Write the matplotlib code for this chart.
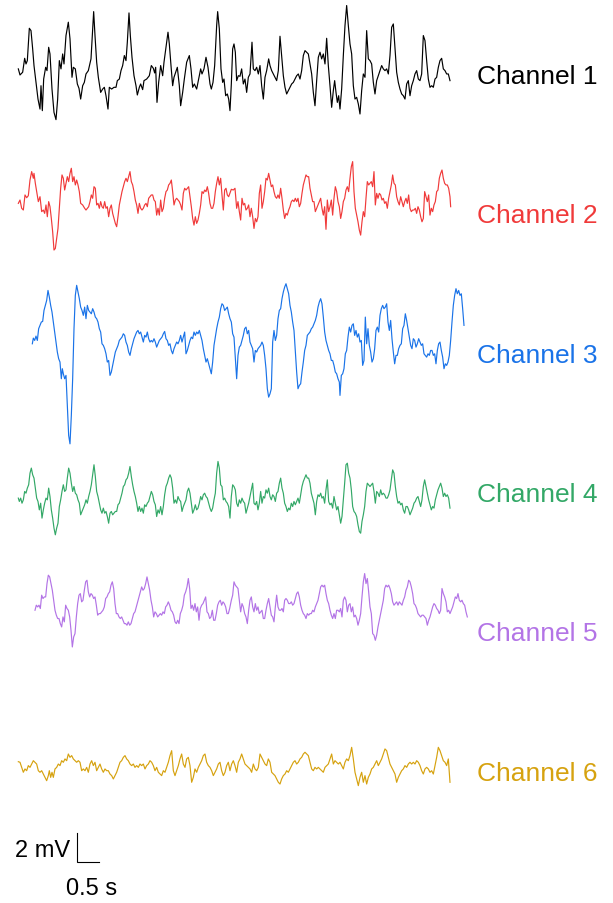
import numpy as np
import matplotlib
matplotlib.use("Agg")
import matplotlib.pyplot as plt

plt.rcParams['font.family'] = ['Liberation Sans', 'DejaVu Sans']

FS = 132.0  # sampling rate, Hz (sample index -> seconds)

channel_names = ["Channel 1", "Channel 2", "Channel 3", "Channel 4", "Channel 5", "Channel 6"]
channel_colors = ["#000000", "#f03a3a", "#1a73e8", "#33a867", "#b374e6", "#d6a20f"]

# (sample index, amplitude in mV)
ch1 = [(1,0.35),(6,-0.07),(14,0.12),(20,1.08),(24,0.69),(28,0.92),(34,3.15),(39,2.99),(44,1.73),(48,0.58),
       (54,-0.58),(60,-1.73),(66,-2.42),(69,-0.81),(73,-2.53),(77,-0.35),(83,0.46),(87,0.23),(92,1.84),(96,1.38),
       (102,-1.04),(108,-2.65),(114,-3.15),(119,-1.73),(124,0.92),(129,0.35),(134,1.38),(138,0.69),(144,2.65),(151,3.57),
       (156,2.42),(162,-0.23),(166,0.46),(172,0.35),(178,-0.69),(183,-0.99),(188,-1.73),(194,-0.81),(199,-0.58),(204,0.00),
       (211,0.23),(219,1.04),(223,2.65),(227,4.30),(231,2.65),(236,0.81),(241,-0.23),(248,-1.27),(254,-1.04),(259,-0.92),
       (264,-1.50),(270,-2.42),(274,-0.92),(281,-1.04),(288,-0.92),(294,-0.92),(298,-0.46),(304,-0.35),(309,0.23),(314,0.58),
       (319,1.27),(324,0.92),(328,2.19),(333,4.21),(337,2.65),(342,1.15),(348,-0.12),(354,-0.81),(358,-1.45),(364,-0.92),
       (368,-0.69),(374,-1.08),(378,-0.46),(386,-0.35),(394,-0.12),(400,0.58),(406,0.39),(410,0.07),(413,0.46),(417,-1.96),
       (422,-0.58),(428,0.58),(434,-0.12),(438,0.81),(444,1.84),(450,2.88),(454,2.07),(459,0.58),(464,-0.81),(468,-0.23),
       (473,0.12),(478,0.46),(484,-0.81),(488,-2.19),(494,-1.27),(499,-0.35),(506,0.81),(514,1.27),(519,0.35),(524,-0.92),
       (529,-0.69),(536,-1.04),(542,-0.35),(548,0.35),(552,0.00),(558,0.35),(564,1.15),(570,0.46),(576,-0.69),(580,-1.04),
       (585,-0.58),(590,0.58),(596,3.34),(599,4.30),(604,3.11),(609,0.35),(614,-0.58),(618,-0.35),(623,-1.50),(628,-1.38),
       (632,-1.73),(636,-2.53),(640,-0.69),(644,1.73),(648,2.07),(652,1.50),(656,-0.46),(661,-0.12),(666,-0.16),
       (671,0.35),(676,-0.69),(681,-0.35),(686,-1.27),(691,-0.23),(696,0.00),(702,2.19),(706,0.35),(711,0.23),(716,0.46),
       (721,0.00),(726,0.58),(731,-0.81),(736,-1.73),(741,-0.23),(746,0.23),(752,1.04),(756,0.58),(761,0.23),(766,0.00),
       (771,-0.23),(776,-0.46),(781,0.23),(786,2.60),(791,1.27),(796,-0.12),(801,-0.92),(806,-1.38),(811,-1.15),(816,-0.92),
       (821,-0.69),(826,-0.58),(831,-0.35),(836,-0.12),(841,0.00),(846,-0.35),(851,0.23),(856,1.27),(861,1.61),(866,1.50),
       (871,1.38),(876,0.69),(881,0.00),(886,-1.27),(891,-2.19),(896,-0.46),(901,1.15),(906,1.50),(911,1.04),(916,1.38),
       (921,0.69),(926,2.46),(931,0.58),(936,-0.81),(941,-2.30),(946,-1.15),(950,-0.46),(954,-1.27),(958,-1.96),(962,-1.50),
       (966,-2.42),(971,-1.04),(976,1.27),(981,3.34),(986,4.72),(991,3.34),(996,2.07),(1001,1.38),(1006,-0.81),(1011,-1.73),
       (1016,-1.61),(1021,-2.07),(1026,-2.76),(1031,-1.15),(1036,0.00),(1041,-0.23),(1046,2.99),(1051,1.04),(1056,0.92),(1061,0.69),
       (1066,-0.58),(1071,-1.38),(1076,-0.46),(1081,-0.12),(1086,0.23),(1091,0.58),(1096,0.35),(1101,0.23),(1106,0.35),(1111,0.00),
       (1116,1.27),(1121,3.22),(1126,3.45),(1131,1.73),(1136,0.12),(1141,-0.58),(1146,-1.04),(1151,-1.38),(1156,-1.50),(1161,-1.73),
       (1166,-0.69),(1171,-0.46),(1176,-1.50),(1181,-0.81),(1186,-0.46),(1191,0.00),(1196,0.23),(1201,-0.35),(1206,-0.46),(1211,0.00),
       (1216,2.65),(1221,2.30),(1226,0.92),(1231,-0.35),(1236,-0.92),(1241,-0.81),(1246,-0.92),(1251,-0.35),(1256,-0.23),(1261,0.46),
       (1266,0.92),(1271,1.08),(1276,0.35),(1281,0.23),(1286,0.00),(1291,0.00),(1296,-0.46)]

ch2 = [(1,0.69),(6,0.92),(11,0.35),(16,0.23),(21,1.27),(26,1.08),(31,1.22),(36,2.30),(41,2.88),(46,2.42),
       (48,2.76),(52,2.07),(56,1.50),(61,0.81),(66,1.15),(71,0.12),(76,0.23),(80,0.00),(84,0.58),(88,-0.23),
       (92,0.81),(96,0.46),(100,-0.35),(104,-1.27),(108,-2.53),(112,-2.42),(116,-1.73),(120,-1.04),(124,0.35),(128,1.73),
       (132,2.65),(136,2.42),(140,1.61),(144,2.07),(148,2.53),(152,2.19),(156,2.76),(160,3.11),(164,2.19),(168,2.53),
       (172,1.96),(176,2.30),(180,1.96),(184,1.50),(188,0.69),(194,0.58),(200,0.35),(204,0.23),(208,0.35),(212,0.46),
       (216,0.81),(220,1.27),(224,1.04),(228,1.84),(232,1.73),(236,0.58),(240,0.69),(244,0.35),(248,0.81),(252,0.46),
       (256,0.35),(260,0.81),(264,0.35),(268,0.46),(272,-0.23),(276,0.35),(280,0.58),(284,0.00),(288,-0.35),(292,-0.69),
       (296,-0.92),(300,-0.23),(304,0.58),(308,1.04),(312,1.50),(316,1.84),(320,2.19),(324,2.42),(328,2.19),(332,2.53),
       (336,2.88),(340,2.19),(344,1.96),(348,1.50),(352,0.92),(356,0.58),(360,0.00),(364,0.69),(368,0.35),(372,0.23),
       (376,0.35),(380,0.58),(384,0.69),(388,0.46),(392,1.04),(396,1.15),(400,1.27),(404,1.27),(408,0.92),(412,0.81),
       (416,-0.12),(420,0.35),(424,-0.12),(428,0.92),(432,0.12),(436,0.35),(440,1.04),(444,1.50),(448,1.61),(452,1.96),
       (456,2.07),(460,2.30),(464,1.50),(468,0.58),(472,0.92),(476,1.04),(480,0.92),(484,0.81),(488,0.58),(492,0.23),
       (496,1.38),(500,1.73),(504,1.61),(508,1.73),(512,1.84),(516,1.15),(520,0.46),(524,-0.35),(528,-0.81),(532,-0.23),
       (536,-0.69),(540,-0.46),(544,0.00),(548,0.58),(552,1.50),(556,1.38),(560,1.61),(564,1.50),(568,1.84),(572,1.38),
       (576,0.69),(580,0.35),(584,0.35),(588,0.69),(592,1.50),(596,2.07),(600,2.53),(604,1.96),(608,2.42),(612,1.27),
       (616,0.23),(620,1.61),(624,1.73),(628,1.27),(632,1.15),(640,1.66),(646,1.61),(651,1.73),(656,0.35),(660,0.81),
       (664,0.12),(668,-0.46),(672,1.04),(676,0.58),(680,0.69),(684,0.23),(688,0.35),(692,0.58),(696,-0.23),(700,0.35),
       (704,-0.23),(708,-1.04),(712,-0.35),(716,-0.58),(720,-0.23),(724,1.38),(728,1.96),(732,0.35),(736,0.81),(740,1.50),
       (744,2.42),(748,2.30),(752,2.76),(756,2.30),(760,1.84),(764,1.96),(768,1.50),(772,1.15),(776,1.04),(780,1.27),
       (784,1.04),(788,1.73),(792,1.04),(796,0.23),(800,-0.35),(804,0.00),(808,-0.12),(812,0.23),(816,0.46),(820,0.81),
       (824,0.92),(828,0.81),(832,1.04),(836,0.81),(840,1.04),(844,0.46),(848,0.69),(852,1.38),(856,1.96),(860,2.30),
       (864,2.65),(868,2.53),(872,2.53),(876,1.73),(880,1.27),(884,0.81),(888,0.81),(892,0.12),(896,0.35),(900,0.58),
       (904,0.81),(908,1.04),(912,0.35),(916,-0.12),(920,0.46),(924,-1.10),(928,0.92),(932,0.12),(936,0.46),(940,0.92),
       (944,-0.12),(948,1.04),(952,1.84),(956,1.50),(960,0.81),(964,0.46),(968,-0.35),(972,0.12),(976,0.81),(980,1.04),
       (984,1.61),(988,1.84),(992,1.50),(996,2.42),(1000,3.22),(1004,3.57),(1008,1.50),(1012,0.35),(1016,-0.12),(1020,-0.58),
       (1024,-1.15),(1028,-1.50),(1032,-0.58),(1036,0.12),(1040,-0.23),(1044,1.04),(1048,2.19),(1052,1.96),(1056,2.07),(1060,2.19),
       (1064,1.84),(1068,2.88),(1072,0.58),(1076,1.38),(1080,1.04),(1084,1.38),(1088,1.27),(1092,0.92),(1096,1.04),(1100,0.69),
       (1104,0.81),(1108,0.35),(1112,1.04),(1116,1.50),(1120,1.96),(1124,2.65),(1128,2.07),(1132,1.96),(1136,1.15),(1140,0.81),
       (1144,0.58),(1148,1.15),(1152,0.81),(1156,0.46),(1160,0.81),(1164,1.04),(1168,0.69),(1172,1.27),(1176,0.35),(1180,0.12),
       (1184,0.23),(1188,0.23),(1192,0.35),(1196,0.00),(1200,0.46),(1204,0.23),(1208,-0.23),(1212,-0.58),(1216,-0.35),(1220,1.50),
       (1224,1.15),(1228,0.81),(1232,1.27),(1236,-0.12),(1240,0.35),(1244,0.12),(1248,0.58),(1252,0.81),(1256,1.50),(1260,1.61),
       (1264,2.42),(1268,2.76),(1272,2.99),(1276,2.42),(1280,2.07),(1284,1.96),(1288,1.96),(1292,1.73),(1296,1.15),(1298,0.46)]

ch3 = [(43,0.62),(46,1.01),(50,0.85),(54,1.15),(58,0.85),(62,1.66),(66,1.89),(70,2.12),(74,2.16),(78,2.92),
       (82,3.27),(86,3.61),(90,4.30),(94,3.84),(98,3.27),(102,2.81),(106,2.12),(110,1.43),(114,0.74),(118,0.05),
       (122,-0.41),(126,-0.64),(130,-1.79),(133,-1.10),(136,-1.45),(140,-1.79),(144,-1.56),(148,-3.63),(152,-5.70),(156,-6.28),
       (160,-4.32),(164,-1.79),(168,1.66),(172,3.96),(176,4.65),(180,4.19),(184,3.73),(188,3.15),(192,2.92),(196,2.58),
       (200,3.15),(204,2.35),(208,3.27),(212,2.92),(216,2.81),(220,2.69),(224,3.04),(228,2.81),(232,2.46),(236,2.35),
       (240,2.12),(244,1.66),(248,1.43),(252,0.62),(256,0.51),(260,0.28),(264,-0.07),(268,-0.64),(272,-0.53),(276,-1.56),
       (280,-1.33),(284,-0.87),(288,-0.41),(292,0.05),(296,0.28),(300,0.51),(304,0.85),(308,0.97),(312,1.08),(316,1.31),
       (320,1.20),(324,0.74),(328,0.51),(332,0.05),(336,-0.18),(340,0.28),(344,0.62),(348,0.97),(352,1.20),(356,1.43),
       (360,1.54),(364,1.31),(368,1.43),(372,1.08),(376,0.74),(380,1.20),(384,1.08),(388,1.43),(392,0.97),(396,0.74),
       (400,0.85),(404,0.74),(408,0.97),(412,0.74),(416,0.39),(420,0.62),(424,0.85),(428,0.97),(432,1.08),(436,1.31),
       (440,1.47),(444,0.97),(448,0.85),(452,0.51),(456,0.62),(460,0.16),(464,-0.07),(468,0.28),(472,0.51),(476,0.74),
       (480,0.62),(484,0.85),(488,1.20),(492,0.74),(496,1.08),(500,1.43),(504,-0.07),(508,0.16),(512,0.51),(516,0.85),
       (520,1.08),(524,0.97),(528,1.43),(532,1.20),(536,1.43),(540,1.31),(544,1.54),(548,1.20),(552,0.85),(556,0.28),
       (560,-0.18),(564,-0.64),(568,-0.41),(572,-0.76),(576,-1.10),(580,-1.45),(584,-0.64),(588,0.51),(592,1.08),(596,1.66),
       (600,2.12),(604,2.46),(608,3.04),(612,3.38),(616,3.27),(620,2.92),(624,3.04),(628,3.15),(632,2.69),(636,2.35),
       (640,2.12),(644,1.31),(648,1.08),(652,-0.41),(656,-1.79),(660,-0.18),(664,0.39),(668,0.51),(672,0.85),(676,1.20),
       (680,1.66),(684,1.77),(688,1.31),(692,1.54),(696,0.74),(700,0.51),(704,0.28),(708,-0.64),(712,0.16),(716,0.05),
       (720,0.28),(724,0.39),(728,0.51),(732,0.74),(736,0.51),(740,-0.18),(744,-1.10),(748,-2.48),(752,-3.06),(756,-2.83),
       (760,-2.48),(764,0.74),(768,1.54),(772,0.85),(776,1.20),(780,2.35),(784,2.92),(788,3.04),(792,3.73),(796,4.19),
       (800,4.53),(804,4.76),(808,4.42),(812,4.07),(816,3.27),(820,2.81),(824,2.12),(828,1.54),(832,0.05),(836,-1.33),
       (840,-2.48),(844,-2.25),(848,-2.14),(852,-1.33),(856,-0.64),(860,0.16),(864,0.51),(868,1.20),(872,1.31),(876,1.43),
       (880,1.66),(884,1.77),(888,2.00),(892,2.23),(896,2.58),(900,3.15),(904,3.50),(908,3.73),(912,3.38),(916,2.46),
       (920,1.43),(924,0.85),(928,0.51),(932,0.16),(936,-0.07),(940,-0.53),(944,-0.53),(948,-0.87),(952,-1.33),(956,-1.45),
       (960,-1.79),(964,-2.02),(966,-2.94),(970,-1.56),(974,-1.45),(978,-1.10),(982,-0.07),(986,0.16),(990,1.08),(994,1.77),
       (998,1.43),(1002,1.89),(1006,2.00),(1010,1.20),(1014,1.54),(1018,1.08),(1022,1.31),(1026,0.74),(1030,0.85),(1034,-0.87),
       (1038,-0.53),(1042,2.46),(1046,0.62),(1050,1.66),(1054,0.51),(1058,0.05),(1062,-0.64),(1066,-0.41),(1070,0.28),(1074,1.54),
       (1078,1.77),(1082,1.43),(1086,2.58),(1090,3.04),(1094,3.27),(1098,3.04),(1102,3.15),(1106,3.38),(1110,2.12),(1114,1.54),
       (1118,2.23),(1122,0.97),(1126,0.05),(1130,-0.76),(1134,-0.18),(1138,-0.18),(1142,0.28),(1146,0.51),(1150,0.62),(1154,1.66),
       (1158,1.89),(1162,2.69),(1166,2.23),(1170,1.66),(1174,1.08),(1178,0.51),(1182,0.28),(1186,0.97),(1190,0.85),(1194,0.39),
       (1198,0.62),(1202,0.97),(1206,0.74),(1210,0.51),(1214,0.62),(1218,-0.07),(1222,-0.18),(1226,-0.30),(1230,-0.07),(1234,-0.18),
       (1238,0.16),(1242,0.16),(1246,-0.18),(1250,-0.07),(1254,-0.76),(1258,0.16),(1262,0.62),(1266,0.74),(1270,0.16),(1274,-0.30),
       (1278,-1.10),(1282,-0.76),(1286,-0.87),(1290,-0.64),(1294,-0.18),(1298,0.85),(1302,2.12),(1306,3.27),(1310,3.96),(1314,4.42),
       (1318,4.07),(1322,4.30),(1326,3.96),(1330,4.07),(1334,3.04),(1338,1.89)]

ch4 = [(1,-0.41),(4,-0.64),(8,-0.41),(12,-0.76),(16,-0.53),(20,0.05),(24,-0.07),(28,0.28),(32,0.51),(36,1.31),
       (40,1.66),(44,1.20),(48,0.97),(52,0.28),(56,-0.41),(60,-0.64),(64,-1.22),(68,-0.76),(72,-1.79),(76,-1.22),
       (80,-0.76),(84,-0.41),(88,-0.53),(92,0.28),(96,-0.30),(100,-1.22),(104,-1.79),(108,-2.48),(112,-2.94),(116,-2.48),
       (120,-2.14),(124,-0.99),(128,-0.53),(132,0.05),(136,0.51),(140,0.05),(144,0.16),(148,0.97),(152,1.66),(156,1.31),
       (160,0.62),(164,0.05),(168,0.39),(172,-0.07),(176,-0.18),(180,-0.53),(184,-0.76),(188,-1.56),(192,-1.33),(196,-1.10),
       (200,-0.87),(204,-0.53),(208,-0.76),(212,-0.30),(216,0.05),(220,0.51),(224,1.20),(228,1.89),(232,1.08),(236,0.05),
       (240,-0.30),(244,-0.76),(248,-1.22),(252,-1.45),(256,-1.10),(260,-1.45),(264,-1.33),(268,-1.68),(272,-2.14),(276,-1.45),
       (280,-1.33),(284,-1.56),(288,-1.45),(292,-1.33),(296,-1.33),(300,-0.87),(304,-0.76),(308,-0.41),(312,-0.07),(316,0.39),
       (320,0.51),(324,0.85),(328,0.97),(332,1.31),(336,1.77),(340,1.08),(344,0.51),(348,0.05),(352,-0.30),(356,-0.76),
       (360,-1.33),(364,-0.99),(368,-1.33),(372,-1.10),(376,-1.45),(380,-0.87),(384,-0.99),(388,-0.76),(392,-0.64),(396,-0.30),
       (400,0.05),(404,-0.18),(408,-0.64),(412,-0.87),(416,-1.68),(420,-1.22),(424,-1.45),(428,-0.99),(432,-1.56),(436,-0.99),
       (440,-0.18),(444,0.39),(448,0.62),(452,0.97),(456,1.20),(460,0.97),(464,0.28),(468,-0.76),(472,-0.53),(476,-0.76),
       (480,-0.30),(484,-0.53),(488,-0.64),(492,-1.33),(496,-0.99),(500,-0.76),(504,-0.53),(508,0.05),(512,0.28),(516,-0.07),
       (520,-0.76),(524,-1.45),(528,-1.22),(532,-0.87),(536,-1.22),(540,-1.10),(544,-0.76),(548,-0.30),(552,-0.53),(556,-0.18),
       (560,-0.07),(564,-0.30),(568,-0.41),(572,-0.76),(576,-1.10),(580,-1.33),(584,-1.10),(588,-0.53),(592,-0.07),(596,1.31),
       (600,2.12),(604,1.66),(608,0.51),(612,0.39),(616,-0.53),(620,-0.41),(624,-0.64),(628,-0.76),(632,-0.99),(636,-1.79),
       (640,-0.30),(644,0.51),(648,0.39),(652,0.16),(656,-0.76),(660,-0.99),(664,-0.53),(668,-0.76),(672,-0.41),(676,-0.64),
       (680,-0.76),(684,-1.45),(688,-1.10),(692,-0.76),(696,-0.30),(700,0.16),(704,0.62),(708,-0.76),(712,-0.87),(716,-0.64),
       (720,-1.22),(724,-0.76),(728,0.05),(732,-0.76),(736,-0.30),(740,-0.41),(744,0.16),(748,-0.07),(752,0.28),(756,-0.30),
       (760,-0.53),(764,-0.18),(768,-0.30),(772,-0.64),(776,-0.07),(780,0.05),(784,0.62),(788,0.97),(792,0.28),(796,-0.07),
       (800,-0.76),(804,-0.99),(808,-1.33),(812,-1.10),(816,-1.22),(820,-0.76),(824,-0.99),(828,-0.64),(832,-0.87),(836,-0.64),
       (840,-0.41),(844,-0.76),(848,-0.18),(852,0.39),(856,0.74),(860,0.97),(864,1.20),(868,0.97),(872,0.97),(876,0.62),
       (880,-0.07),(884,-0.41),(888,-0.76),(892,-1.56),(896,-0.64),(900,-0.18),(904,-0.30),(908,-0.07),(912,-0.41),(916,-0.30),
       (920,-0.76),(924,0.16),(928,0.85),(932,-0.64),(936,-0.87),(940,-0.76),(944,-1.10),(948,-0.30),(952,-0.76),(956,-1.22),
       (960,-0.99),(964,-1.56),(968,-2.14),(972,-1.68),(976,-0.53),(980,0.62),(984,1.89),(988,2.00),(992,1.31),(996,0.97),
       (1000,0.16),(1004,-0.99),(1008,-1.33),(1012,-1.45),(1016,-1.68),(1020,-2.25),(1024,-2.71),(1028,-2.83),(1032,-2.02),(1036,-1.56),
       (1040,-0.99),(1044,0.05),(1048,0.62),(1052,0.51),(1056,0.39),(1060,0.51),(1064,0.62),(1068,0.05),(1072,-0.76),(1076,0.05),
       (1080,-0.07),(1084,-0.30),(1088,0.16),(1092,-0.18),(1096,-0.07),(1100,-0.18),(1104,-0.41),(1108,-0.41),(1112,-0.18),(1116,0.16),
       (1120,0.85),(1124,1.54),(1128,1.31),(1132,0.39),(1136,-0.30),(1140,-0.76),(1144,-0.64),(1148,-0.87),(1152,-0.76),(1156,-1.22),
       (1160,-1.45),(1164,-0.99),(1168,-0.99),(1172,-1.22),(1176,-1.56),(1180,-1.33),(1184,-1.10),(1188,-0.76),(1192,-0.64),(1196,-0.41),
       (1200,-0.30),(1204,-0.64),(1208,-0.99),(1212,-0.53),(1216,0.39),(1220,0.85),(1224,0.39),(1228,-0.07),(1232,-0.53),(1236,-0.87),
       (1240,-1.22),(1244,-0.99),(1248,-1.10),(1252,-0.53),(1256,-0.18),(1260,0.16),(1264,0.39),(1268,0.62),(1272,0.28),(1276,-0.30),
       (1280,-0.07),(1284,-0.30),(1288,-0.18),(1292,-0.41),(1296,-1.10)]

ch5 = [(51,1.47),(55,1.82),(59,1.70),(63,1.82),(67,1.59),(71,2.51),(75,2.28),(79,2.39),(83,2.39),(87,3.31),
       (91,3.89),(95,3.77),(99,3.31),(103,2.85),(107,2.16),(111,1.47),(115,1.13),(119,0.90),(123,0.90),(127,0.55),
       (131,0.32),(135,1.01),(139,0.67),(143,1.82),(147,1.59),(151,1.47),(155,1.01),(159,0.09),(163,-1.06),(167,-0.37),
       (171,-0.14),(175,1.01),(179,1.93),(183,2.51),(187,2.62),(191,2.05),(195,2.16),(199,2.85),(203,3.43),(207,3.54),
       (211,2.74),(215,2.39),(219,2.62),(223,2.51),(227,2.28),(231,2.39),(235,1.82),(239,1.13),(243,1.24),(247,1.24),
       (251,1.36),(255,1.47),(259,1.70),(263,2.28),(267,2.39),(271,2.62),(275,2.74),(279,3.20),(283,3.43),(287,2.97),
       (291,1.93),(295,1.24),(299,1.24),(303,1.01),(307,0.90),(311,1.01),(315,0.78),(319,0.55),(323,0.55),(327,0.44),
       (331,0.67),(335,0.44),(339,0.55),(343,0.90),(347,1.24),(351,1.36),(355,1.70),(359,2.05),(363,2.39),(367,2.74),
       (371,3.08),(375,2.85),(379,2.97),(383,3.31),(387,3.77),(391,3.31),(395,2.85),(399,2.16),(403,1.70),(407,1.01),
       (411,1.36),(415,1.24),(419,1.01),(423,1.13),(427,1.24),(431,1.13),(435,1.36),(439,1.24),(443,1.70),(447,1.82),
       (451,2.05),(455,1.82),(459,1.47),(463,1.36),(467,1.13),(471,0.67),(475,0.55),(479,0.78),(483,0.55),(487,1.24),
       (491,1.47),(495,1.82),(499,2.51),(503,2.74),(507,3.08),(511,3.66),(515,2.97),(519,1.59),(523,1.82),(527,1.47),
       (531,1.93),(535,1.36),(539,1.70),(543,0.78),(547,1.59),(551,1.82),(555,1.93),(559,2.16),(563,2.39),(567,1.36),
       (571,1.24),(575,0.90),(579,1.01),(583,1.47),(587,0.78),(591,0.78),(595,1.24),(599,1.82),(603,2.05),(607,2.16),
       (611,1.82),(615,2.05),(619,1.93),(623,1.70),(627,1.24),(631,1.24),(635,1.59),(640,2.16),(644,2.51),(648,3.43),
       (652,3.20),(656,3.08),(660,2.97),(664,2.16),(668,1.36),(672,1.93),(676,1.70),(680,1.24),(684,1.01),(688,0.55),
       (692,1.47),(696,2.16),(700,2.39),(704,1.70),(708,1.36),(712,1.93),(716,1.47),(720,1.70),(724,1.24),(728,1.36),
       (732,1.47),(736,0.90),(740,0.90),(744,1.47),(748,1.93),(752,2.28),(756,1.70),(760,1.13),(764,1.01),(768,0.67),
       (772,1.70),(776,2.51),(780,1.70),(784,1.47),(788,1.47),(792,1.59),(796,1.36),(800,2.16),(804,2.28),(808,2.16),
       (812,1.93),(816,1.93),(820,2.05),(824,1.82),(828,1.93),(832,2.28),(836,2.62),(840,2.74),(844,2.39),(848,1.82),
       (852,1.47),(856,1.24),(860,1.13),(864,0.90),(868,1.24),(872,1.13),(876,1.24),(880,1.24),(884,1.47),(888,1.36),
       (892,1.70),(896,1.93),(900,2.16),(904,2.62),(908,3.08),(912,3.20),(916,3.08),(920,3.20),(924,2.62),(928,2.16),
       (932,1.93),(936,1.47),(940,1.13),(944,0.90),(948,1.24),(952,0.90),(956,1.47),(960,1.47),(964,1.36),(968,1.59),
       (972,1.01),(976,2.16),(980,2.39),(984,2.16),(988,1.36),(992,1.82),(996,1.93),(1000,1.36),(1004,1.70),(1008,1.01),
       (1012,1.13),(1016,0.90),(1020,0.44),(1024,0.78),(1028,1.24),(1032,2.39),(1036,3.43),(1040,4.00),(1044,3.31),(1048,3.66),
       (1052,2.74),(1056,1.70),(1060,1.24),(1064,-0.14),(1068,-0.25),(1072,-0.60),(1076,-0.25),(1080,0.32),(1084,0.78),(1088,1.24),
       (1092,1.70),(1096,2.16),(1100,2.97),(1104,3.20),(1108,3.08),(1112,3.20),(1116,2.97),(1120,2.62),(1124,2.05),(1128,1.82),
       (1132,1.93),(1136,2.05),(1140,1.82),(1144,2.05),(1148,1.93),(1152,1.82),(1156,2.16),(1160,2.39),(1164,2.85),(1168,3.08),
       (1172,3.54),(1176,3.43),(1180,3.08),(1184,2.62),(1188,1.93),(1192,1.82),(1196,1.59),(1200,1.24),(1204,1.13),(1208,1.01),
       (1212,1.13),(1216,1.13),(1220,1.01),(1224,0.90),(1228,0.44),(1232,0.78),(1236,1.01),(1240,1.36),(1244,1.70),(1248,1.93),
       (1252,1.82),(1256,1.59),(1260,1.47),(1264,1.24),(1268,1.47),(1272,2.97),(1276,2.62),(1280,2.39),(1284,2.05),(1288,1.36),
       (1292,1.47),(1296,1.24),(1300,1.47),(1304,1.70),(1308,2.05),(1312,2.39),(1316,2.28),(1320,2.62),(1324,2.16),(1328,2.05),
       (1332,2.16),(1336,1.93),(1340,1.82),(1344,1.36),(1348,1.01)]

ch6 = [(1,0.64),(6,0.60),(11,0.25),(16,-0.09),(21,0.14),(26,0.02),(31,0.37),(36,0.25),(41,0.48),(46,0.71),
       (51,0.60),(56,0.48),(61,0.02),(66,-0.09),(71,0.02),(76,-0.21),(81,-0.44),(86,-0.67),(91,-0.32),(94,0.02),
       (98,-0.44),(102,-0.09),(106,-0.44),(111,0.14),(116,0.25),(121,0.48),(126,0.37),(131,0.71),(136,0.60),(141,0.83),
       (146,0.71),(151,1.17),(156,0.94),(161,1.06),(166,0.83),(171,0.71),(176,0.60),(181,0.71),(186,0.60),(191,0.02),
       (196,0.14),(201,0.02),(206,0.25),(211,-0.09),(216,0.48),(221,0.71),(226,0.37),(231,0.60),(236,0.02),(241,0.25),
       (246,0.48),(251,0.14),(256,-0.09),(261,0.14),(266,0.02),(271,0.02),(276,-0.21),(281,-0.32),(286,-0.55),(291,-0.32),
       (296,-0.09),(301,0.25),(306,0.60),(311,0.71),(316,0.94),(321,1.06),(326,0.83),(331,0.71),(336,0.48),(341,0.37),
       (346,0.48),(351,0.25),(356,0.37),(361,0.25),(366,0.48),(371,0.37),(376,0.48),(381,0.14),(386,0.37),(391,0.48),
       (396,0.71),(401,0.60),(406,0.37),(411,0.02),(416,0.25),(421,-0.09),(426,-0.21),(431,-0.32),(436,0.02),(441,-0.09),
       (446,0.25),(451,0.60),(456,1.06),(461,1.40),(466,0.02),(471,-0.32),(476,0.02),(481,0.37),(486,0.83),(491,1.17),
       (496,0.48),(501,0.25),(506,0.83),(511,0.94),(516,0.37),(521,-0.78),(526,-0.44),(531,0.14),(536,-0.09),(541,0.25),
       (546,0.48),(551,0.71),(556,1.06),(561,1.17),(566,0.60),(571,0.37),(576,0.25),(581,0.02),(586,-0.32),(591,-0.09),
       (596,0.14),(601,0.48),(606,0.60),(611,0.02),(616,-0.32),(621,-0.09),(626,0.37),(631,0.60),(636,0.02),(641,0.48),
       (646,0.71),(651,0.37),(656,-0.09),(661,0.60),(666,0.83),(671,1.17),(676,0.83),(681,0.48),(686,0.37),(691,0.25),
       (696,0.14),(701,-0.09),(706,0.48),(711,0.14),(716,0.02),(721,0.25),(726,1.17),(731,0.94),(736,0.71),(741,0.48),
       (746,0.37),(751,0.83),(756,0.60),(761,-0.09),(766,-0.21),(771,-0.32),(776,-0.55),(781,-0.78),(786,-0.90),(791,-0.55),
       (796,-0.32),(801,-0.21),(806,0.02),(811,-0.09),(816,0.14),(821,0.37),(826,0.60),(831,0.71),(836,0.48),(841,0.60),
       (846,0.83),(851,0.94),(856,1.17),(861,1.29),(866,1.17),(871,1.06),(876,0.60),(881,0.14),(886,0.02),(891,0.25),
       (896,0.14),(901,0.25),(906,0.14),(911,0.02),(916,-0.09),(921,0.25),(926,0.37),(931,0.48),(936,0.83),(941,1.17),
       (946,0.48),(951,0.71),(956,0.60),(961,0.48),(966,0.60),(971,0.37),(976,0.14),(981,0.60),(986,0.83),(991,0.71),
       (996,1.06),(1001,1.63),(1006,0.83),(1011,-0.09),(1016,-0.55),(1021,-1.01),(1026,-0.44),(1031,-0.09),(1036,-0.78),(1041,-0.32),
       (1046,-0.90),(1051,-0.44),(1056,-0.21),(1061,0.14),(1066,0.25),(1071,0.48),(1076,0.71),(1081,0.37),(1086,0.60),(1091,0.83),
       (1096,1.17),(1101,1.52),(1106,1.40),(1111,0.94),(1116,0.48),(1121,0.25),(1126,0.02),(1131,-0.21),(1136,-0.78),(1141,-0.44),
       (1146,-0.21),(1151,0.02),(1156,0.14),(1161,0.37),(1166,0.25),(1171,0.48),(1176,0.60),(1181,0.48),(1186,0.60),(1191,0.48),
       (1196,0.71),(1201,0.60),(1206,0.37),(1211,0.02),(1216,-0.21),(1221,0.14),(1226,0.25),(1231,0.14),(1236,-0.09),(1241,0.02),
       (1246,-0.21),(1251,0.37),(1256,0.94),(1261,1.63),(1266,1.40),(1271,1.06),(1276,0.71),(1281,0.60),(1286,0.37),(1291,0.83),
       (1296,-0.78)]

channels = [ch1, ch2, ch3, ch4, ch5, ch6]

# layout: vertical spacing between channel baselines (mV) and scale bar sizes
SPACING = 9.614
SCALE_T = 0.5   # s
SCALE_V = 2.0   # mV

fig = plt.figure(figsize=(6.13, 9.04), dpi=100)
ax = fig.add_axes([0, 0, 1, 1])
ax.set_xlim(-0.409, 13.523)
ax.set_ylim(5.17 - 62.345, 5.17)
ax.axis("off")

label_t = 10.43
for i, (data, name, color) in enumerate(zip(channels, channel_names, channel_colors)):
    arr = np.array(data, dtype=float)
    t = arr[:, 0] / FS
    v = arr[:, 1] - i * SPACING
    ax.plot(t, v, color=color, lw=0.85, solid_joinstyle="round")
    ax.text(label_t, -i * SPACING - 0.12, name, color=color, fontsize=19,
            ha="left", va="center")

# scale bar
sb_t0 = 1.341
sb_v0 = -54.35
ax.plot([sb_t0, sb_t0, sb_t0 + SCALE_T], [sb_v0 + SCALE_V, sb_v0, sb_v0],
        color="black", lw=0.8, solid_joinstyle="miter")
ax.text(sb_t0 - 0.16, sb_v0 + 0.85, f"{SCALE_V:g} mV", fontsize=17,
        ha="right", va="center", color="black")
ax.text(sb_t0 + 0.34, sb_v0 - 1.78, f"{SCALE_T:g} s", fontsize=17,
        ha="center", va="center", color="black")

fig.savefig("out.png", dpi=100)
